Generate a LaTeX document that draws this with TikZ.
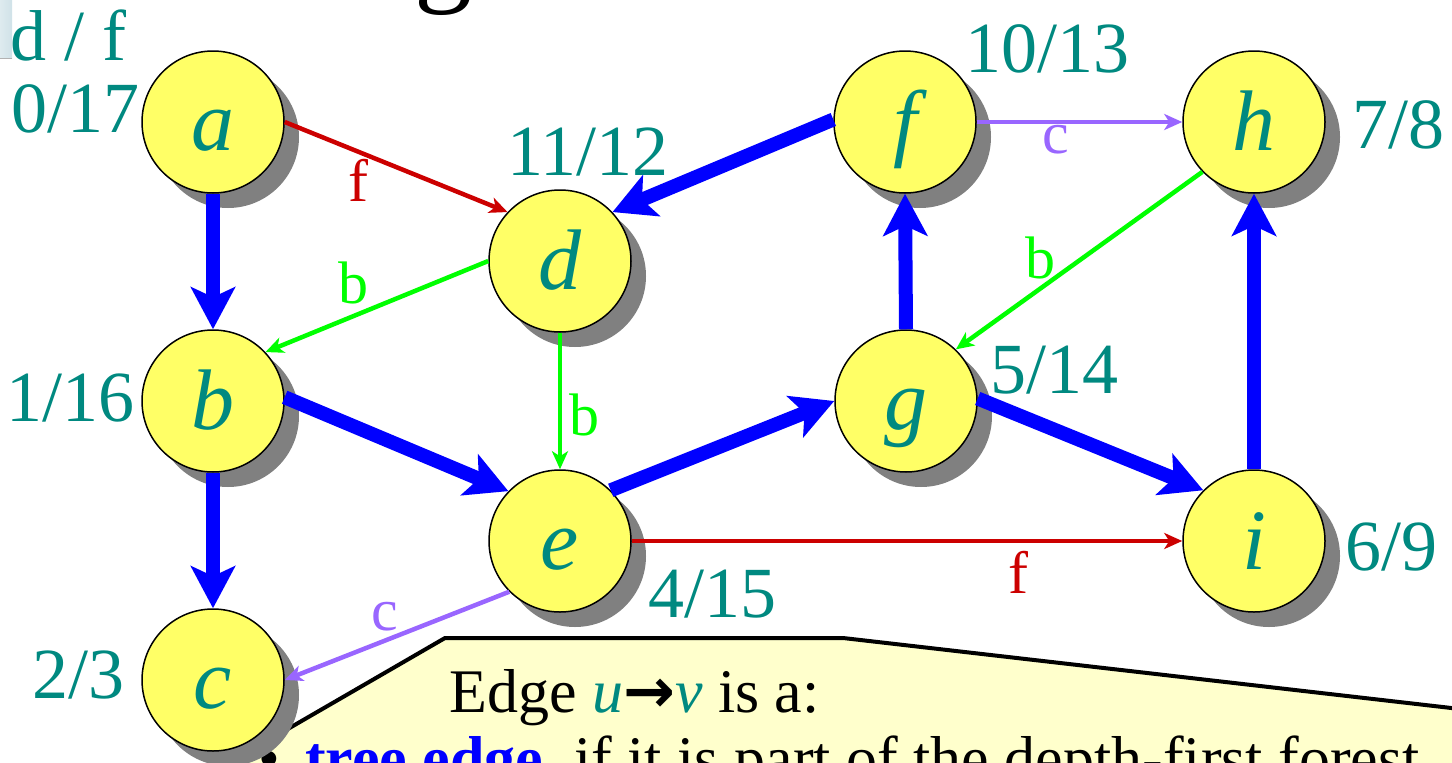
\documentclass[tikz,border=0pt]{standalone}
\usepackage{fontspec}
\setmainfont{Liberation Serif}
\newfontfamily\arrowfont{DejaVu Sans}
\usetikzlibrary{arrows.meta,shapes.geometric,shadows}
\definecolor{tealc}{RGB}{0,137,128}
\definecolor{vyellow}{RGB}{255,255,102}
\definecolor{vshadow}{RGB}{128,128,128}
\definecolor{eblue}{RGB}{0,0,255}
\definecolor{ered}{RGB}{204,0,0}
\definecolor{egreen}{RGB}{0,255,0}
\definecolor{epurple}{RGB}{153,102,255}
\definecolor{calloutfill}{RGB}{255,255,204}
\definecolor{panelc}{RGB}{208,226,232}
\begin{document}
\begin{tikzpicture}[x=1pt,y=-1pt,
  vtx/.style={ellipse, draw=black, line width=1.5pt, fill=vyellow,
    minimum width=142pt, minimum height=142pt, inner sep=0pt,
    text=tealc, font=\fontsize{86}{86}\selectfont\itshape,
    text height=76pt, text depth=19pt,
    general shadow={fill=vshadow, shadow xshift=15pt, shadow yshift=-15pt}},
  tree/.style={draw=eblue, line width=14pt, -{Stealth[length=42pt,width=44pt,inset=10pt]}},
  fwd/.style={draw=ered, line width=4.5pt, -{Stealth[length=18pt,width=16pt,inset=5pt]}},
  bck/.style={draw=egreen, line width=4.5pt, -{Stealth[length=18pt,width=16pt,inset=5pt]}},
  crs/.style={draw=epurple, line width=4.5pt, -{Stealth[length=18pt,width=16pt,inset=5pt]}},
  elab/.style={font=\fontsize{60}{60}\selectfont, inner sep=0pt},
  time/.style={text=tealc, font=\fontsize{72}{72}\selectfont, inner sep=0pt},
  ctext/.style={font=\fontsize{62}{62}\selectfont, inner sep=0pt, anchor=base west}
]
\useasboundingbox (0,0) rectangle (1452,763);
\clip (0,0) rectangle (1452,763);

% slide remnants
\shade[left color=panelc!70, right color=panelc] (0,0) rectangle (12,58);
\draw[gray!60, line width=1pt] (0,58) -- (12,58);
\node[anchor=base west, inner sep=0pt, font=\fontsize{116}{116}\selectfont] (title) at (414,-10) {g};

% callout
\draw[fill=calloutfill, line width=4pt, line join=miter]
  (229,763) -- (445,638) -- (843,638) -- (1460,709) -- (1460,790) -- (200,790) -- cycle;
\node[ctext] (line1) at (449,712) {Edge \textcolor{tealc}{\textit{u}}{\arrowfont\bfseries →}\textcolor{tealc}{\textit{v}} is a:};
\node[ctext] (bullet) at (258,779) {•};
\node[ctext] (line2) at (305,779) {\textcolor{eblue}{\textbf{tree edge}}, if it is part of the depth-first forest.};

% vertices
\node[vtx] (a) at (213,122) {a};
\node[vtx] (b) at (213,401) {b};
\node[vtx] (c) at (213,680) {c};
\node[vtx] (d) at (560,261) {d};
\node[vtx] (e) at (560,541) {e};
\node[vtx] (f) at (905,122) {f};
\node[vtx] (g) at (906,401) {g};
\node[vtx] (h) at (1254,122) {h};
\node[vtx] (i) at (1254,541) {i};

% edges
\draw[tree] (a.270) -- (b.90);
\draw[tree] (b.270) -- (c.90);
\draw[tree] (b.3) -- (e.136);
\draw[tree] (e.45) -- (g.180);
\draw[tree] (g.90) -- (f.270);
\draw[tree] (f.178) -- (d.43);
\draw[tree] (g.2) -- (i.135);
\draw[tree] (i.90) -- (h.270);
\draw[fwd] (a.0) -- (d.137);
\draw[fwd] (e.0) -- (i.180);
\draw[bck] (d.180) -- (b.43);
\draw[bck] (d.270) -- (e.90);
\draw[bck] (h.224) -- (g.46);
\draw[crs] (e.225) -- (c.0);
\draw[crs] (f.0) -- (h.180);

% edge labels
\node[elab, text=ered] (lad) at (358,180) {f};
\node[elab, text=egreen] (ldb) at (353,283) {b};
\node[elab, text=egreen] (lde) at (584,415) {b};
\node[elab, text=epurple] (lec) at (385,617) {c};
\node[elab, text=epurple] (lfh) at (1056,140) {c};
\node[elab, text=egreen] (lhg) at (1040,258) {b};
\node[elab, text=ered] (lei) at (1018,572) {f};

% discovery / finish times
\node[time, anchor=base west] (df) at (10,60) {d / f};
\node[time, anchor=base east] (ta) at (140,132) {0/17};
\node[time, anchor=base east] (tb) at (135,421) {1/16};
\node[time, anchor=base east] (tc) at (125,698) {2/3};
\node[time, anchor=base west] (td) at (507,175) {11/12};
\node[time, anchor=base west] (te) at (648,617) {4/15};
\node[time, anchor=base west] (tf) at (965,72) {10/13};
\node[time, anchor=base west] (tg) at (990,393) {5/14};
\node[time, anchor=base west] (th) at (1352,148) {7/8};
\node[time, anchor=base west] (ti) at (1345,570) {6/9};
\end{tikzpicture}
\end{document}
